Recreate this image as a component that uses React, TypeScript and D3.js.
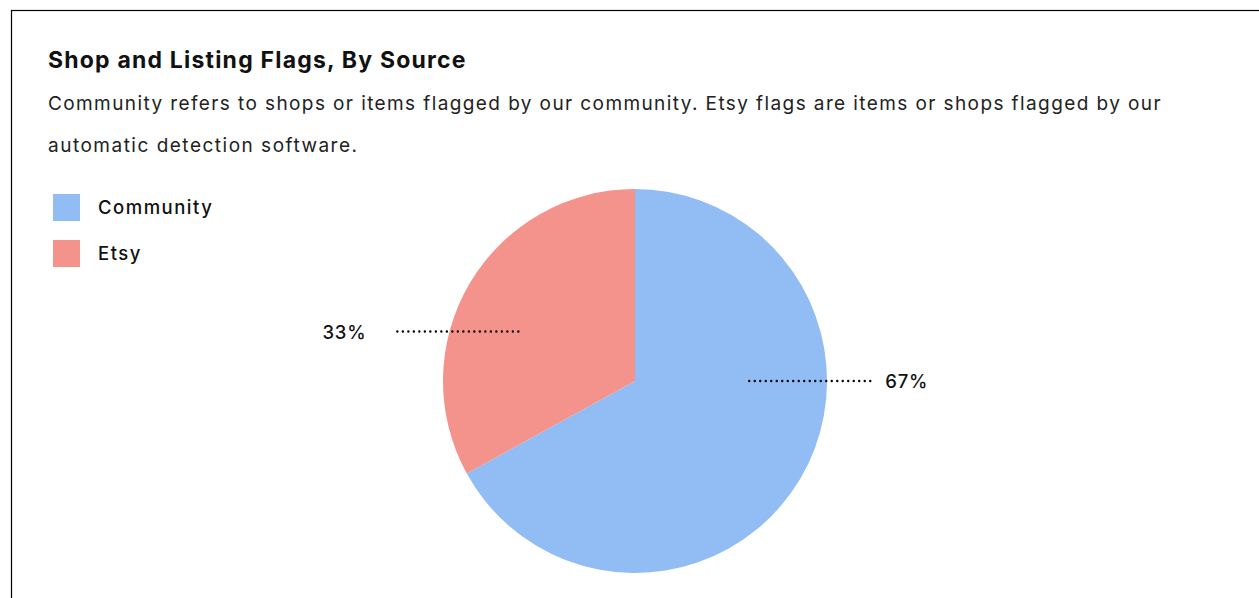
import React from "react";
import * as d3 from "d3";

const categories = ["Community", "Etsy"];
const values = [67, 33];
const valueLabels = ["67%", "33%"];
const colors = ["#91bdf4", "#f4928c"];
// label anchor angle (degrees, clockwise from 12 o'clock) and anchor radius fraction
const labelAngles = [90, 293];
const labelRadiusFrac = [0.595, 0.66];

const W = 1259;
const H = 598;
const FONT = "Inter, 'Noto Sans', sans-serif";

export default function App() {
  const cx = 635;
  const cy = 381;
  const r = 192;
  const pie = d3.pie<number>().sort(null).value((d) => d)(values);
  const arc = d3.arc<d3.PieArcDatum<number>>().innerRadius(0).outerRadius(r);
  const lineLen = 122;

  return (
    <svg
      width={W}
      height={H}
      style={{ position: "absolute", left: 0, top: 0, background: "#fff" }}
      fontFamily={FONT}
    >
      <rect x={11.5} y={10.5} width={1300} height={700} fill="#fff" stroke="#000" strokeWidth={1.2} />
      <text x={48} y={68} fontSize={23} fontWeight={700} fill="#111" letterSpacing={1.2}>
        Shop and Listing Flags, By Source
      </text>
      <text x={48} y={110} fontSize={19} fill="#222" letterSpacing={1.4}>
        Community refers to shops or items flagged by our community. Etsy flags are items or shops flagged by our
      </text>
      <text x={48} y={152} fontSize={19} fill="#222" letterSpacing={1.5}>
        automatic detection software.
      </text>
      {categories.map((c, i) => (
        <g key={c} transform={`translate(53, ${194 + i * 46})`}>
          <rect width={27} height={27} fill={colors[i]} />
          <text x={45} y={20} fontSize={18.5} fontWeight={500} fill="#111" letterSpacing={1.5}>
            {c}
          </text>
        </g>
      ))}
      <g transform={`translate(${cx}, ${cy})`}>
        {pie.map((p, i) => (
          <path key={i} d={arc(p) || ""} fill={colors[i]} />
        ))}
        {pie.map((p, i) => {
          const a = (labelAngles[i] * Math.PI) / 180;
          const rr = r * labelRadiusFrac[i];
          const x0 = rr * Math.sin(a);
          const y0 = -rr * Math.cos(a);
          const right = x0 >= 0;
          const x1 = right ? x0 + lineLen : x0 - lineLen;
          return (
            <g key={"l" + i}>
              <line
                x1={x0}
                y1={y0}
                x2={x1}
                y2={y0}
                stroke="#000"
                strokeWidth={2.4}
                strokeDasharray="0 5.5"
                strokeLinecap="round"
              />
              <text
                x={right ? x1 + 14 : x1 - 30}
                y={y0 + 7}
                fontSize={18.5}
                fontWeight={500}
                fill="#111"
                letterSpacing={0.8}
                textAnchor={right ? "start" : "end"}
              >
                {valueLabels[i]}
              </text>
            </g>
          );
        })}
      </g>
    </svg>
  );
}
